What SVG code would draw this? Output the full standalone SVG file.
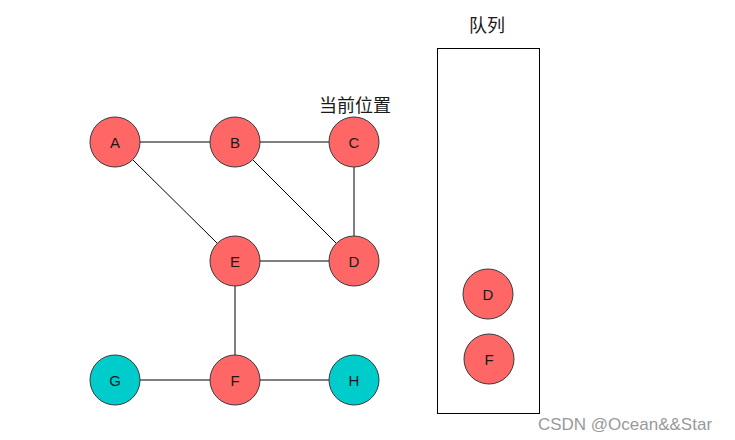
<svg xmlns="http://www.w3.org/2000/svg" width="735" height="440" viewBox="0 0 735 440">
<style>
.n{stroke:#36393d;stroke-width:1}
.r{fill:#ff6666}
.t{fill:#00cccc}
.l{font-family:"Liberation Sans",Arial,sans-serif;font-size:15px;fill:#1a1a1a;text-anchor:middle;dominant-baseline:central}
.c{font-family:"Liberation Sans","Noto Sans CJK SC",sans-serif;font-size:18px;fill:#1a1a1a;text-anchor:middle}
.e{stroke:#000;stroke-width:1;fill:none}
</style>
<rect width="735" height="440" fill="#fff"/>
<g id="connectors">
<line class="e" x1="140" y1="142" x2="210" y2="142"/>
<line class="e" x1="260" y1="142" x2="329" y2="142"/>
<line class="e" x1="133" y1="160" x2="217" y2="243"/>
<line class="e" x1="253" y1="160" x2="336" y2="243"/>
<line class="e" x1="354" y1="167" x2="354" y2="236"/>
<line class="e" x1="260" y1="261" x2="329" y2="261"/>
<line class="e" x1="235" y1="286" x2="235" y2="355"/>
<line class="e" x1="140" y1="380" x2="210" y2="380"/>
<line class="e" x1="260" y1="380" x2="329" y2="380"/>
</g>
<g id="A"><circle class="n r" cx="115" cy="142" r="25"/><text class="l" x="115" y="142">A</text></g>
<g id="B"><circle class="n r" cx="235" cy="142" r="25"/><text class="l" x="235" y="142">B</text></g>
<g id="C"><circle class="n r" cx="354" cy="142" r="25"/><text class="l" x="354" y="142">C</text></g>
<g id="E"><circle class="n r" cx="235" cy="261" r="25"/><text class="l" x="235" y="261">E</text></g>
<g id="D"><circle class="n r" cx="354" cy="261" r="25"/><text class="l" x="354" y="261">D</text></g>
<g id="G"><circle class="n t" cx="115" cy="380" r="25"/><text class="l" x="115" y="380">G</text></g>
<g id="F"><circle class="n r" cx="235" cy="380" r="25"/><text class="l" x="235" y="380">F</text></g>
<g id="H"><circle class="n t" cx="354" cy="380" r="25"/><text class="l" x="354" y="380">H</text></g>
<g id="current-label"><text class="c" x="355" y="112">当前位置</text></g>
<g id="queue">
<text class="c" x="487" y="32">队列</text>
<rect x="437.5" y="48.5" width="102" height="365" fill="none" stroke="#000" stroke-width="1"/>
</g>
<g id="queue-D"><circle class="n r" cx="488" cy="294" r="25"/><text class="l" x="488" y="294">D</text></g>
<g id="queue-F"><circle class="n r" cx="489" cy="359" r="25"/><text class="l" x="489" y="359">F</text></g>
<text x="625" y="430" font-family="'Liberation Sans',Arial,sans-serif" font-size="17" fill="#999" text-anchor="middle">CSDN @Ocean&amp;&amp;Star</text>
</svg>
